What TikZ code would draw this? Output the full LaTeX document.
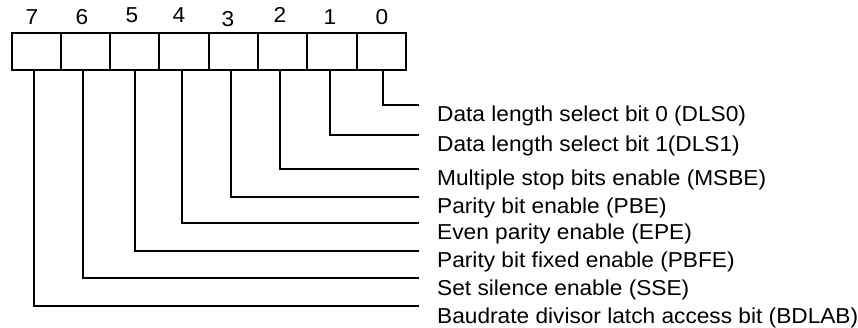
\documentclass[tikz,border=0pt]{standalone}
\usepackage{fontspec}
\newfontfamily\labfont[FakeStretch=1.05]{Liberation Sans}
\begin{document}
\begin{tikzpicture}[x=1pt,y=1pt,
  cell/.style={draw,line width=2pt,minimum width=49.3pt,minimum height=37pt,inner sep=0pt,outer sep=0pt,anchor=north west},
  lead/.style={line width=2pt},
  lab/.style={font=\labfont\fontsize{21.6}{24}\selectfont,inner sep=0pt,anchor=base west},
  num/.style={font=\labfont\fontsize{21.6}{24}\selectfont,inner sep=0pt,anchor=base}]
\useasboundingbox (0,0) rectangle (858,-328);
% register cells
\foreach \b/\i in {7/0,6/1,5/2,4/3,3/4,2/5,1/6,0/7}{
  \node[cell] (c\b) at (11.5+49.3*\i,-33.5) {};
}
% bit numbers
\foreach \b/\x/\y in {7/32/25,6/82/25,5/132/22.7,4/179/22.7,3/228/26.7,2/280/22.7,1/330/25,0/382/25}{
  \node[num] (n\b) at (\x,-\y) {\b};
}
% labels and leads
\foreach \b/\dx/\y/\t in {
  0/1.3/105/{Data length select bit 0 (DLS0)},
  1/-2.4/135/{Data length select bit 1(DLS1)},
  2/-3/169/{Multiple stop bits enable (MSBE)},
  3/-2.8/197/{Parity bit enable (PBE)},
  4/-2.5/223/{Even parity enable (EPE)},
  5/0/251/{Parity bit fixed enable (PBFE)},
  6/-2/278/{Set silence enable (SSE)},
  7/-2.6/306/{Baudrate divisor latch access bit (BDLAB)}}{
  \node[lab] (l\b) at (437,-\y-17) {\t};
  \coordinate (e\b) at (419,-\y);
  \draw[lead] ([xshift=\dx pt]c\b.south) |- (e\b);
}
\end{tikzpicture}
\end{document}
